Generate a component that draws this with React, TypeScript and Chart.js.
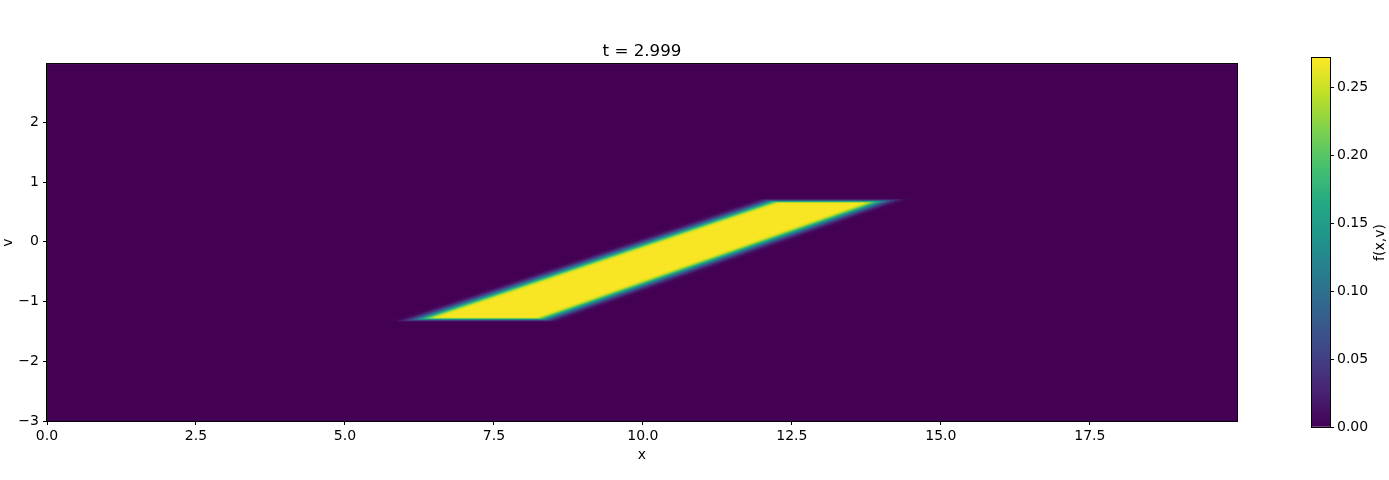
import React, { useEffect, useRef } from "react";
import { Chart, registerables } from "chart.js";

Chart.register(...registerables);

// ---------------- data ----------------
const timeLabel = "t = 2.999";
const xAxisLabel = "x";
const vAxisLabel = "v";
const colorbarLabel = "f(x,v)";

const xRange = [0, 19.97];
const vRange = [-3, 2.975];
const fRange = [0, 0.272];

const xTicks = [0, 2.5, 5, 7.5, 10, 12.5, 15, 17.5];
const vTicks = [-3, -2, -1, 0, 1, 2];
const fTicks = [0, 0.05, 0.1, 0.15, 0.2, 0.25];

// contour levels of f(x,v), outermost first
const levelValues = [0.004, 0.02, 0.045, 0.07, 0.095, 0.12, 0.145, 0.17, 0.195, 0.22, 0.245, 0.262, 0.27];

// polygon corners (bottom-left, bottom-right, top-right, top-left) per level
const levelX = [
  [5.745, 8.595, 14.495, 11.895],
  [5.905, 8.495, 14.335, 11.995],
  [6.015, 8.445, 14.225, 12.045],
  [6.105, 8.415, 14.135, 12.075],
  [6.165, 8.385, 14.075, 12.105],
  [6.22, 8.36, 14.02, 12.13],
  [6.27, 8.34, 13.97, 12.15],
  [6.32, 8.32, 13.92, 12.17],
  [6.37, 8.3, 13.87, 12.19],
  [6.42, 8.28, 13.82, 12.21],
  [6.475, 8.255, 13.765, 12.235],
  [6.53, 8.23, 13.71, 12.26],
  [6.625, 8.195, 13.615, 12.295],
];
const levelV = [
  [-1.335, -1.335, 0.715, 0.715],
  [-1.325, -1.325, 0.705, 0.705],
  [-1.315, -1.315, 0.695, 0.695],
  [-1.305, -1.305, 0.685, 0.685],
  [-1.3, -1.3, 0.68, 0.68],
  [-1.295, -1.295, 0.675, 0.675],
  [-1.29, -1.29, 0.67, 0.67],
  [-1.285, -1.285, 0.665, 0.665],
  [-1.28, -1.28, 0.66, 0.66],
  [-1.275, -1.275, 0.655, 0.655],
  [-1.27, -1.27, 0.65, 0.65],
  [-1.265, -1.265, 0.645, 0.645],
  [-1.255, -1.255, 0.635, 0.635],
];

// ---------------- style ----------------
const viridis = [
  "#440154", "#482475", "#414487", "#355f8d", "#2a788e",
  "#21918c", "#22a884", "#44bf70", "#7ad151", "#bddf26", "#fde725",
];
const FONT = "'DejaVu Sans', 'Liberation Sans', sans-serif";

function hexToRgb(h: string) {
  const n = parseInt(h.slice(1), 16);
  return [(n >> 16) & 255, (n >> 8) & 255, n & 255];
}
function viridisAt(t: number) {
  const tt = Math.max(0, Math.min(1, t)) * (viridis.length - 1);
  const i = Math.min(viridis.length - 2, Math.floor(tt));
  const f = tt - i;
  const a = hexToRgb(viridis[i]);
  const b = hexToRgb(viridis[i + 1]);
  const c = a.map((v, k) => Math.round(v + (b[k] - v) * f));
  return `rgb(${c[0]},${c[1]},${c[2]})`;
}

const tickFont = { family: FONT, size: 14 };

export default function App() {
  const mainRef = useRef<HTMLCanvasElement | null>(null);
  const cbRef = useRef<HTMLCanvasElement | null>(null);

  useEffect(() => {
    if (!mainRef.current || !cbRef.current) return;
    Chart.defaults.font.family = FONT;
    Chart.defaults.color = "#000";

    const datasets = levelValues
      .map((val, i) => {
        const col = viridisAt(val / fRange[1]);
        const pts = levelX[i].map((x, j) => ({ x, y: levelV[i][j] }));
        pts.push({ x: levelX[i][0], y: levelV[i][0] });
        return {
          type: "scatter" as const,
          data: pts,
          showLine: true,
          fill: "shape",
          pointRadius: 0,
          borderWidth: 1,
          borderColor: col,
          backgroundColor: col,
          tension: 0,
        };
      })
      .reverse();

    const framePlugin = {
      id: "frame",
      beforeDraw(chart: any) {
        const a = chart.chartArea;
        const ctx = chart.ctx;
        ctx.save();
        ctx.fillStyle = viridis[0];
        ctx.fillRect(a.left, a.top, a.right - a.left, a.bottom - a.top);
        ctx.restore();
      },
      afterDraw(chart: any) {
        const a = chart.chartArea;
        const ctx = chart.ctx;
        ctx.save();
        ctx.strokeStyle = "#000";
        ctx.lineWidth = 1;
        ctx.strokeRect(a.left - 0.5, a.top - 0.5, a.right - a.left + 1, a.bottom - a.top + 1);
        ctx.restore();
      },
    };

    const main = new Chart(mainRef.current, {
      type: "scatter",
      data: { datasets: datasets as any },
      options: {
        animation: false,
        responsive: false,
        devicePixelRatio: 1,
        events: [],
        layout: { padding: { left: 0, right: 23, top: 42, bottom: 0 } },
        plugins: {
          legend: { display: false },
          tooltip: { enabled: false },
          title: {
            display: true,
            text: timeLabel,
            fullSize: false,
            color: "#000",
            font: { family: FONT, size: 16.7, weight: "normal" },
            padding: { top: 0, bottom: 2 },
          },
        },
        scales: {
          x: {
            type: "linear",
            min: xRange[0],
            max: xRange[1],
            afterBuildTicks: (s: any) => {
              s.ticks = xTicks.map((value) => ({ value }));
            },
            afterFit: (s: any) => {
              s.height = 59;
            },
            ticks: {
              autoSkip: false,
              maxRotation: 0,
              padding: 3,
              color: "#000",
              font: tickFont,
              callback: (v: any) => Number(v).toFixed(1),
            },
            grid: { drawOnChartArea: false, drawTicks: true, tickLength: 4, color: "#000" },
            border: { display: false },
            title: {
              display: true,
              text: xAxisLabel,
              color: "#000",
              font: tickFont,
              padding: { top: 0, bottom: 16 },
            },
          },
          y: {
            type: "linear",
            min: vRange[0],
            max: vRange[1],
            afterBuildTicks: (s: any) => {
              s.ticks = vTicks.map((value) => ({ value }));
            },
            afterFit: (s: any) => {
              s.width = 47;
            },
            ticks: {
              autoSkip: false,
              padding: 4,
              color: "#000",
              font: tickFont,
              callback: (v: any) => String(v).replace("-", "\u2212"),
            },
            grid: { drawOnChartArea: false, drawTicks: true, tickLength: 4, color: "#000" },
            border: { display: false },
            title: {
              display: true,
              text: vAxisLabel,
              color: "#000",
              font: tickFont,
              padding: { top: 0, bottom: 0 },
            },
          },
        },
      },
      plugins: [framePlugin],
    } as any);

    const cbLabelPlugin = {
      id: "cbLabel",
      afterDraw(chart: any) {
        const a = chart.chartArea;
        const ctx = chart.ctx;
        ctx.save();
        ctx.strokeStyle = "#000";
        ctx.lineWidth = 1;
        ctx.strokeRect(a.left - 0.5, a.top - 0.5, a.right - a.left + 1, a.bottom - a.top + 1);
        ctx.translate(90, (a.top + a.bottom) / 2);
        ctx.rotate(-Math.PI / 2);
        ctx.fillStyle = "#000";
        ctx.font = `14px ${FONT}`;
        ctx.textAlign = "center";
        ctx.textBaseline = "middle";
        ctx.fillText(colorbarLabel, 0, 0);
        ctx.restore();
      },
    };

    const cb = new Chart(cbRef.current, {
      type: "bar",
      data: {
        labels: ["f"],
        datasets: [
          {
            data: [[fRange[0], fRange[1]]],
            barPercentage: 1,
            categoryPercentage: 1,
            borderWidth: 0,
            backgroundColor: (c: any) => {
              const ch = c.chart;
              const a = ch.chartArea;
              if (!a) return viridis[0];
              const g = ch.ctx.createLinearGradient(0, a.bottom, 0, a.top);
              viridis.forEach((col, i) => g.addColorStop(i / (viridis.length - 1), col));
              return g;
            },
          },
        ],
      },
      options: {
        animation: false,
        responsive: false,
        devicePixelRatio: 1,
        events: [],
        layout: { padding: { left: 22, right: 0, top: 58, bottom: 53 } },
        plugins: { legend: { display: false }, tooltip: { enabled: false }, title: { display: false } },
        scales: {
          x: { display: false },
          y: {
            position: "right",
            min: fRange[0],
            max: fRange[1],
            afterBuildTicks: (s: any) => {
              s.ticks = fTicks.map((value) => ({ value }));
            },
            afterFit: (s: any) => {
              s.width = 59;
            },
            ticks: {
              autoSkip: false,
              padding: 3,
              color: "#000",
              font: tickFont,
              callback: (v: any) => Number(v).toFixed(2),
            },
            grid: { drawOnChartArea: false, drawTicks: true, tickLength: 4, color: "#000" },
            border: { display: false },
          },
        },
      },
      plugins: [cbLabelPlugin],
    } as any);

    return () => {
      main.destroy();
      cb.destroy();
    };
  }, []);

  return (
    <div style={{ position: "fixed", left: 0, top: 0, width: 1389, height: 480, background: "#fff" }}>
      <canvas
        ref={mainRef}
        width={1260}
        height={480}
        style={{ position: "absolute", left: 0, top: 0, width: 1260, height: 480 }}
      />
      <canvas
        ref={cbRef}
        width={99}
        height={480}
        style={{ position: "absolute", left: 1290, top: 0, width: 99, height: 480 }}
      />
    </div>
  );
}
